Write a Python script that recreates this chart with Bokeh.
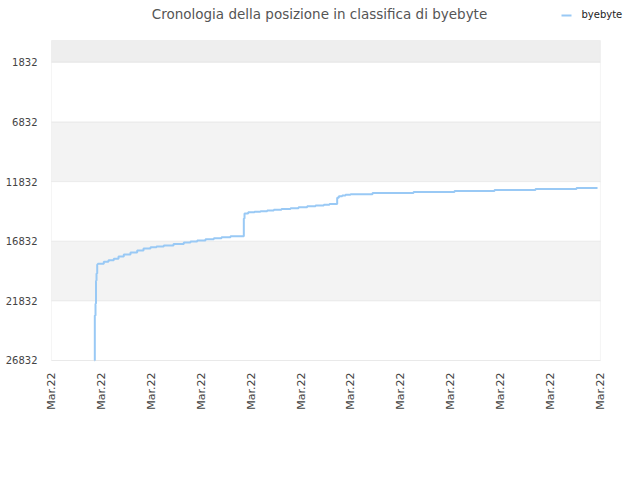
from bokeh.plotting import figure
from bokeh.models import BoxAnnotation, FixedTicker, Label, Range1d
from bokeh.embed import file_html
from bokeh.resources import INLINE

# ---- data ----
title_text = "Cronologia della posizione in classifica di byebyte"
series_name = "byebyte"
tick_positions = [0, 1, 2, 3, 4, 5, 6, 7, 8, 9, 10, 11]
tick_labels = ["Mar.22"] * 12
y_ticks = [1832, 6832, 11832, 16832, 21832, 26832]

time_idx = [0.856, 0.868, 0.882, 0.892, 0.902, 0.916, 0.928, 1.048, 1.142, 1.248,
            1.343, 1.449, 1.583, 1.717, 1.844, 1.984, 2.104, 2.250, 2.445, 2.651,
            2.786, 2.920, 3.086, 3.253, 3.407, 3.587, 3.854, 3.868, 3.942, 4.068,
            4.188, 4.323, 4.455, 4.609, 4.790, 4.950, 5.124, 5.291, 5.457, 5.571,
            5.725, 5.758, 5.826, 5.892, 5.992, 6.433, 7.255, 8.076, 8.878, 9.699,
            10.521, 10.942]
rank = [26832, 23059, 22052, 20122, 19535, 18780, 18721, 18553, 18419, 18301,
        18109, 17940, 17772, 17605, 17437, 17328, 17270, 17186, 17060, 16934,
        16850, 16766, 16657, 16573, 16489, 16406, 14921, 14501, 14392, 14358,
        14308, 14249, 14190, 14123, 14056, 13972, 13888, 13830, 13771, 13704,
        13184, 13050, 12991, 12932, 12882, 12797, 12713, 12629, 12545, 12461,
        12378, 12378]

# ---- figure ----
# The frame reaches the top and right of the canvas so that the title and
# legend, drawn as annotations, are not clipped; the visible plot box, its
# bands and grid lines are drawn as annotations limited to the data box.
p = figure(width=632, height=472, output_backend="svg", toolbar_location=None,
           title=None,
           x_range=Range1d(-0.02, 11.643), y_range=Range1d(26916, -3354),
           min_border_left=50, min_border_right=0, min_border_top=0,
           min_border_bottom=111)

p.outline_line_color = None
p.background_fill_color = "white"
p.border_fill_color = "white"
p.xgrid.grid_line_color = None
p.ygrid.grid_line_color = None

# bands
p.add_layout(BoxAnnotation(top=0, bottom=1832, left=0, right=11,
                           fill_color="#eeeeee", fill_alpha=1,
                           line_alpha=0, level="underlay"))
for lo, hi in [(6832, 11832), (16832, 21832)]:
    p.add_layout(BoxAnnotation(top=lo, bottom=hi, left=0, right=11,
                               fill_color="#f3f3f3", fill_alpha=1,
                               line_alpha=0, level="underlay"))

# horizontal grid lines at the y ticks
for t in y_ticks:
    p.add_layout(BoxAnnotation(top=t, bottom=t, left=0, right=11,
                               fill_alpha=0, line_color="#dddddd", line_width=1,
                               level="underlay"))

# plot box border
p.add_layout(BoxAnnotation(top=0, bottom=26832, left=0, right=11,
                           fill_alpha=0, line_color="#dddddd", line_width=1,
                           level="overlay"))

p.yaxis.ticker = FixedTicker(ticks=y_ticks)
p.xaxis.ticker = FixedTicker(ticks=tick_positions)
p.xaxis.major_label_overrides = {t: l for t, l in zip(tick_positions, tick_labels)}
p.xaxis.major_label_orientation = 1.5708

for ax in (p.xaxis, p.yaxis):
    ax.axis_line_color = None
    ax.major_tick_line_color = None
    ax.minor_tick_line_color = None
    ax.major_tick_out = 0
    ax.major_tick_in = 0
    ax.minor_tick_out = 0
    ax.minor_tick_in = 0
    ax.major_label_text_font = "DejaVu Sans"
    ax.major_label_text_color = "#444444"
p.yaxis.major_label_text_font_size = "10px"
p.xaxis.major_label_text_font_size = "11px"
p.yaxis.major_label_standoff = 13
p.xaxis.major_label_standoff = 11

p.step(time_idx, rank, mode="after", line_color="#99c9f5", line_width=2)

# title (screen units relative to the frame's bottom-left)
p.add_layout(Label(x=269, y=348, x_units="screen", y_units="screen",
                   text=title_text, text_font="DejaVu Sans", text_font_size="13.5px",
                   text_color="#555555", text_align="center",
                   text_baseline="middle", level="overlay"))

# legend
p.add_layout(BoxAnnotation(left=511, right=521, bottom=345, top=347,
                           left_units="screen", right_units="screen",
                           top_units="screen", bottom_units="screen",
                           fill_color="#99c9f5", fill_alpha=1, line_alpha=0,
                           level="overlay"))
p.add_layout(Label(x=531, y=347, x_units="screen", y_units="screen",
                   text=series_name, text_font="DejaVu Sans", text_font_size="10px",
                   text_color="#222222", text_baseline="middle", level="overlay"))

open("out.html", "w").write(file_html(p, INLINE))
